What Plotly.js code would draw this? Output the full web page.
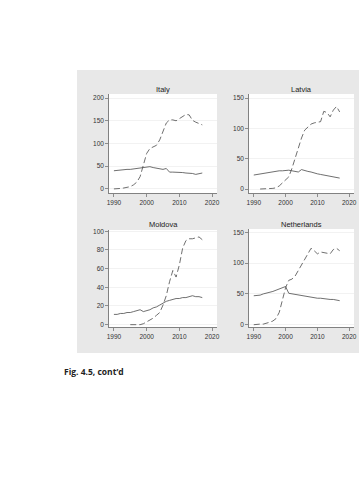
<!DOCTYPE html>
<html>
<head>
<meta charset="utf-8">
<script src="https://cdn.plot.ly/plotly-3.0.1.min.js"></script>
<style>
html,body{margin:0;padding:0;background:#fff;}
#chart{width:359px;height:480px;}
</style>
</head>
<body>
<div id="chart"></div>
<script>
// ---- data ----
const italyYears = [1990,1991,1992,1993,1994,1995,1996,1997,1998,1999,2000,2001,2002,2003,2004,2005,2006,2007,2008,2009,2010,2011,2012,2013,2014,2015,2016,2017];
const italySolid = [40,41,42,42,43,43,44,44,46,47,48,49,47,46,45,43,45,37,37,37,37,36,35,35,34,32,33,35];
const italyDashed = [0,0,1,2,3,5,9,15,27,55,78,89,92,96,108,128,145,152,152,150,155,160,164,163,151,147,144,141];

const latviaYears = [1990,1991,1992,1993,1994,1995,1996,1997,1998,1999,2000,2001,2002,2003,2004,2005,2006,2007,2008,2009,2010,2011,2012,2013,2014,2015,2016,2017];
const latviaSolid = [23,24,25,26,26,27,29,29,30,30,31,31,30,29,28,32,30,29,28,26,25,24,23,22,20,19,18,18];
const latviaDashed = [null,null,0,0,0,0,1,2,5,10,15,20,34,52,70,84,97,102,107,109,110,111,128,126,119,130,136,127];

const moldovaYears = [1990,1991,1992,1993,1994,1995,1996,1997,1998,1999,2000,2001,2002,2003,2004,2005,2006,2007,2008,2009,2010,2011,2012,2013,2014,2015,2016,2017];
const moldovaSolid = [11,11,12,12,13,13,14,15,16,14,15,16,18,19,21,23,25,26,27,28,28,29,29,30,31,30,30,29];
const moldovaDashed = [null,null,null,null,null,0,0,0,0,1,3,5,7,10,13,21,31,46,58,51,64,82,90,92,92,93,94,91];

const nlYears = [1990,1991,1992,1993,1994,1995,1996,1997,1998,1999,2000,2001,2002,2003,2004,2005,2006,2007,2008,2009,2010,2011,2012,2013,2014,2015,2016,2017];
const nlSolid = [47,47,48,50,51,52,54,56,58,60,62,51,50,49,48,47,46,45,44,44,43,43,42,42,41,41,40,39];
const nlDashed = [0,1,1,1,2,4,6,10,20,41,60,72,74,79,88,97,108,117,124,120,115,118,117,116,115,122,124,120];

const panelTitles = ["Italy","Latvia","Moldova","Netherlands"];
const xTicks = [1990,2000,2010,2020];
const yTicksA = [0,50,100,150,200];
const yTicksB = [0,50,100,150];
const yTicksC = [0,20,40,60,80,100];
const caption = "Fig. 4.5, cont\u2019d";

// ---- layout helpers ----
const W = 359, H = 480;
const px = v => v / W;
const py = v => 1 - v / H;
const lineCol = '#4a4a4a';
const font = "Liberation Sans, Arial, sans-serif";

function tr(x, y, dash, ax) {
  return {x: x, y: y, type: 'scatter', mode: 'lines', xaxis: 'x' + ax, yaxis: 'y' + ax,
    line: {color: lineCol, width: 0.8, dash: dash ? '6px,3px' : 'solid'}, connectgaps: false,
    showlegend: false, hoverinfo: 'skip'};
}

const data = [
  tr(italyYears, italySolid, false, ''), tr(italyYears, italyDashed, true, ''),
  tr(latviaYears, latviaSolid, false, '2'), tr(latviaYears, latviaDashed, true, '2'),
  tr(moldovaYears, moldovaSolid, false, '3'), tr(moldovaYears, moldovaDashed, true, '3'),
  tr(nlYears, nlSolid, false, '4'), tr(nlYears, nlDashed, true, '4')
];

function xax(x0, x1, anchor) {
  return {domain: [px(x0), px(x1)], anchor: anchor, range: [1988.5, 2021.5],
    tickvals: xTicks, ticktext: xTicks.map(String), ticks: 'outside', ticklen: 3, tickwidth: 0.7,
    tickcolor: '#666', showline: true, linecolor: '#666', linewidth: 0.8, showgrid: false,
    zeroline: false, tickfont: {family: font, size: 6.5, color: '#333'}, fixedrange: true};
}
function yax(y0, y1, range, ticks, anchor) {
  return {domain: [py(y1), py(y0)], anchor: anchor, range: range,
    tickvals: ticks, ticktext: ticks.map(String), ticks: 'outside', ticklen: 3, tickwidth: 0.7,
    tickcolor: '#666', showline: true, linecolor: '#666', linewidth: 0.8, showgrid: true,
    gridcolor: '#ececec', gridwidth: 0.7, zeroline: false,
    tickfont: {family: font, size: 6.5, color: '#333'}, fixedrange: true};
}

const P = [
  {x0: 109, x1: 217, y0: 94, y1: 193},
  {x0: 249, x1: 354, y0: 94, y1: 193},
  {x0: 109, x1: 217, y0: 230, y1: 327},
  {x0: 249, x1: 354, y0: 229, y1: 327}
];

const layout = {
  width: W, height: H,
  margin: {l: 0, r: 0, t: 0, b: 0, pad: 0},
  paper_bgcolor: '#ffffff', plot_bgcolor: '#ffffff',
  showlegend: false,
  xaxis: xax(P[0].x0, P[0].x1, 'y'),
  yaxis: yax(P[0].y0, P[0].y1, [-9, 209], yTicksA, 'x'),
  xaxis2: xax(P[1].x0, P[1].x1, 'y2'),
  yaxis2: yax(P[1].y0, P[1].y1, [-6.6, 156.6], yTicksB, 'x2'),
  xaxis3: xax(P[2].x0, P[2].x1, 'y3'),
  yaxis3: yax(P[2].y0, P[2].y1, [-2.5, 101.4], yTicksC, 'x3'),
  xaxis4: xax(P[3].x0, P[3].x1, 'y4'),
  yaxis4: yax(P[3].y0, P[3].y1, [-3.7, 155.3], yTicksB, 'x4'),
  shapes: [
    {type: 'rect', xref: 'paper', yref: 'paper', x0: px(77), x1: px(359), y0: py(353), y1: py(70),
     fillcolor: '#e8e8e8', line: {width: 0}, layer: 'below'}
  ].concat(P.map(p => ({type: 'rect', xref: 'paper', yref: 'paper', x0: px(p.x0), x1: px(p.x1),
     y0: py(p.y1), y1: py(p.y0), fillcolor: '#ffffff', line: {width: 0}, layer: 'below'}))),
  annotations: [
    {text: panelTitles[0], xref: 'paper', yref: 'paper', x: px((P[0].x0 + P[0].x1) / 2), y: py(89),
     showarrow: false, font: {family: font, size: 7.5, color: '#222'}, xanchor: 'center', yanchor: 'middle'},
    {text: panelTitles[1], xref: 'paper', yref: 'paper', x: px((P[1].x0 + P[1].x1) / 2), y: py(89),
     showarrow: false, font: {family: font, size: 7.5, color: '#222'}, xanchor: 'center', yanchor: 'middle'},
    {text: panelTitles[2], xref: 'paper', yref: 'paper', x: px((P[2].x0 + P[2].x1) / 2), y: py(224),
     showarrow: false, font: {family: font, size: 7.5, color: '#222'}, xanchor: 'center', yanchor: 'middle'},
    {text: panelTitles[3], xref: 'paper', yref: 'paper', x: px((P[3].x0 + P[3].x1) / 2), y: py(224),
     showarrow: false, font: {family: font, size: 7.5, color: '#222'}, xanchor: 'center', yanchor: 'middle'},
    {text: '<b>' + caption + '</b>', xref: 'paper', yref: 'paper', x: px(62), y: py(371),
     showarrow: false, font: {family: "Open Sans, sans-serif", size: 8.5, color: '#222'},
     xanchor: 'left', yanchor: 'middle'}
  ]
};

Plotly.newPlot('chart', data, layout, {staticPlot: true, displayModeBar: false});
</script>
</body>
</html>
